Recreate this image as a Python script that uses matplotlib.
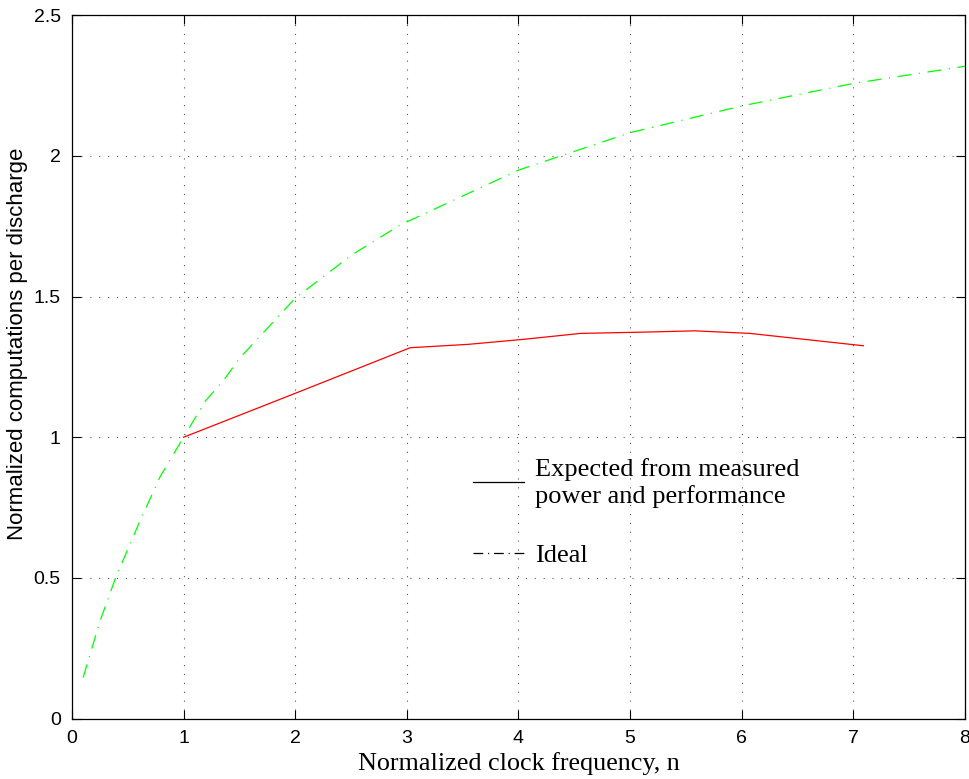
import matplotlib
matplotlib.use("Agg")
import matplotlib.pyplot as plt
from matplotlib.lines import Line2D

plt.rcParams['lines.scale_dashes'] = False

# Data
ideal_n = [0.10, 0.25, 0.39, 0.60, 0.79, 1.00, 1.19, 1.36, 1.50, 2.00, 2.50, 2.94, 4.00, 5.00, 6.00, 7.00, 8.00]
ideal_v = [0.146, 0.345, 0.500, 0.694, 0.860, 1.000, 1.126, 1.203, 1.280, 1.494, 1.646, 1.754, 1.949, 2.082, 2.177, 2.257, 2.318]

meas_n = [1.00, 2.00, 3.03, 3.55, 4.05, 4.56, 5.07, 5.58, 6.07, 7.09]
meas_v = [1.000, 1.156, 1.318, 1.330, 1.348, 1.369, 1.373, 1.378, 1.369, 1.325]

xticks = [0, 1, 2, 3, 4, 5, 6, 7, 8]
yticks = [0, 0.5, 1, 1.5, 2, 2.5]
ytick_labels = ['0', '0.5', '1', '1.5', '2', '2.5']

legend_labels = ['Expected from measured\npower and performance', 'Ideal']

fig = plt.figure(figsize=(9.7, 7.79), dpi=100)
ax = fig.add_axes([0.0742, 0.0774, 0.9206, 0.9033])

dashdot = (0, (10, 5.5, 0.8, 5.5))
ax.plot(ideal_n, ideal_v, color='#00ff00', lw=0.9, linestyle=dashdot)
ax.plot(meas_n, meas_v, color='#ff0000', lw=0.9)

ax.set_xlim(0, 8)
ax.set_ylim(0, 2.5)
ax.set_xticks(xticks)
ax.set_yticks(yticks)
ax.set_yticklabels(ytick_labels)

ax.grid(True, color='#555555', lw=0.8, linestyle=(0, (0.8, 5.6)))
ax.tick_params(direction='in', length=6.5, width=0.8, top=True, right=True,
               labelsize=14, pad=8)
for lab in ax.get_xticklabels() + ax.get_yticklabels():
    lab.set_fontfamily('Liberation Sans')
for s in ax.spines.values():
    s.set_linewidth(0.9)

ax.set_xlabel('Normalized clock frequency, n', fontfamily='Liberation Serif', fontsize=18.8, labelpad=4)
ax.set_ylabel('Normalized computations per discharge', fontfamily='Liberation Sans', fontsize=16)
ax.yaxis.set_label_coords(-0.0495, 0.5325)

handles = [Line2D([], [], color='black', lw=0.9),
           Line2D([], [], color='black', lw=0.9, linestyle=(0, (7, 3.5, 0.8, 3.5)))]
leg = ax.legend(handles, legend_labels, frameon=False, loc='upper left',
                bbox_to_anchor=(0.4377, 0.385), prop={'family': 'Liberation Serif', 'size': 19},
                handlelength=1.9, handletextpad=0.45, labelspacing=1.35, borderaxespad=0)

fig.savefig('out.png', dpi=100)
